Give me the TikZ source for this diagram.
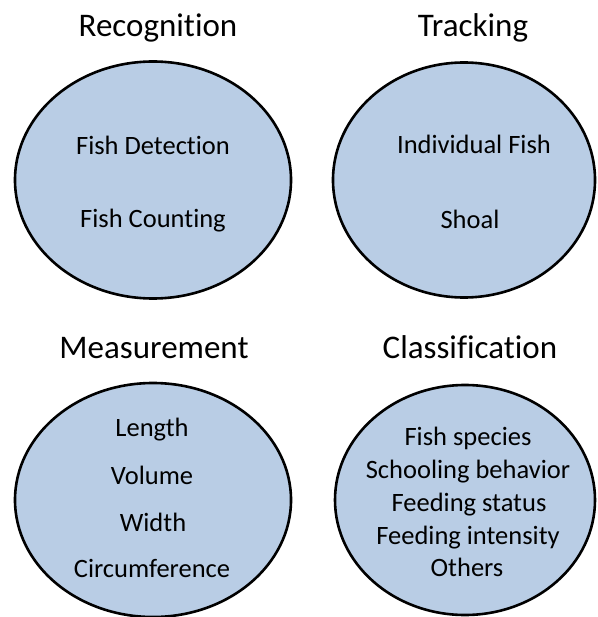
\documentclass[tikz,border=0pt]{standalone}
\usepackage{fontspec}
\setmainfont{Carlito}[Ligatures=NoCommon]
\usetikzlibrary{shapes.geometric}

\definecolor{lightblue}{HTML}{B9CDE5}

\begin{document}
\begin{tikzpicture}[x=1pt,y=-1pt,
    blob/.style={ellipse,draw=black,line width=2.6pt,fill=lightblue,inner sep=0pt},
    head/.style={anchor=base,inner sep=0pt,font=\fontsize{33}{40}\selectfont},
    item/.style={anchor=base,inner sep=0pt,font=\fontsize{26.5}{32}\selectfont}]
    \useasboundingbox (0,0) rectangle (597,617);

    % top row
    \node[blob,minimum width=276pt,minimum height=237pt] (recog) at (153,180) {};
    \node[blob,minimum width=262pt,minimum height=235pt] (track) at (464,180) {};
    \node[head] (recogtitle) at (158,36.7) {Recognition};
    \node[head] (tracktitle) at (473,36.7) {Tracking};
    \node[item] (detect) at (153,154.5) {Fish Detection};
    \node[item] (count) at (153,227.5) {Fish Counting};
    \node[item] (indiv) at (474,153.5) {Individual Fish};
    \node[item] (shoal) at (470,228.5) {Shoal};

    % bottom row
    \node[blob,minimum width=276pt,minimum height=234pt] (measure) at (153,500) {};
    \node[blob,minimum width=260pt,minimum height=230pt] (classify) at (465,500) {};
    \node[head] (measuretitle) at (154,358) {Measurement};
    \node[head] (classifytitle) at (470,358) {Classification};
    \node[item] (length) at (152,436.5) {Length};
    \node[item] (volume) at (152,484.5) {Volume};
    \node[item] (width) at (153,531.5) {Width};
    \node[item] (circum) at (152,577.5) {Circumference};
    \node[item] (species) at (468,445.5) {Fish species};
    \node[item] (school) at (468,478.5) {Schooling behavior};
    \node[item] (status) at (469,511.5) {Feeding status};
    \node[item] (intensity) at (468,544.5) {Feeding intensity};
    \node[item] (others) at (467,576.5) {Others};
\end{tikzpicture}
\end{document}
